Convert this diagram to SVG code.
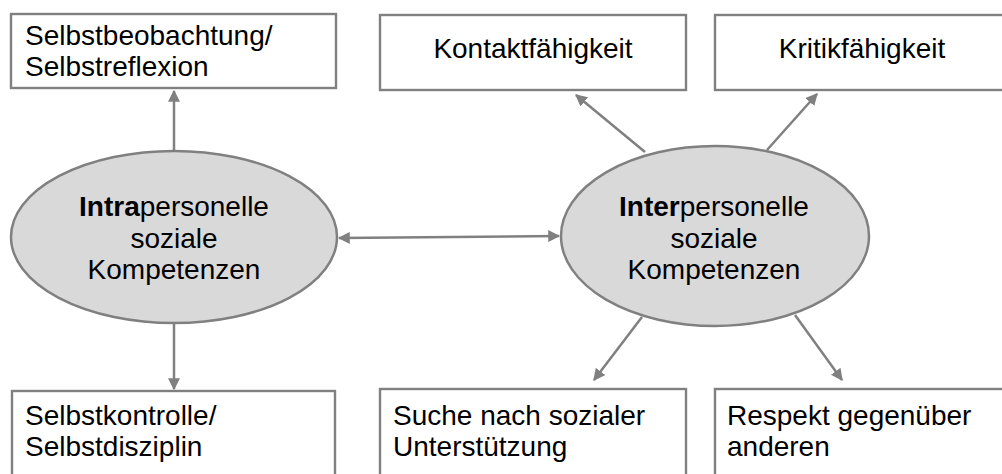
<svg xmlns="http://www.w3.org/2000/svg" width="1002" height="474" viewBox="0 0 1002 474">
  <style>
    .box { fill: #ffffff; stroke: #808080; stroke-width: 2.4; }
    .ell { fill: #d9d9d9; stroke: #808080; stroke-width: 2.5; }
    .lbl { font-family: "Liberation Sans", Arial, sans-serif; font-size: 28px; fill: #000000; }
    .mid { text-anchor: middle; }
    .b { font-weight: bold; }
    .conn { stroke: #808080; stroke-width: 2.5; fill: none; marker-end: url(#arr); }
    .both { marker-start: url(#arrs); }
  </style>
  <defs>
    <marker id="arr" viewBox="0 0 10 10" refX="9" refY="5" markerWidth="4.8" markerHeight="4.8" orient="auto" markerUnits="strokeWidth">
      <path d="M0,0 L10,5 L0,10 z" fill="#808080"/>
    </marker>
    <marker id="arrs" viewBox="0 0 10 10" refX="1" refY="5" markerWidth="4.8" markerHeight="4.8" orient="auto" markerUnits="strokeWidth">
      <path d="M10,0 L0,5 L10,10 z" fill="#808080"/>
    </marker>
  </defs>

  <!-- connectors -->
  <g id="connectors">
    <line class="conn" x1="174" y1="150" x2="174" y2="91"/>
    <line class="conn" x1="174" y1="323" x2="174" y2="389"/>
    <line class="conn both" x1="339" y1="238" x2="559" y2="236"/>
    <line class="conn" x1="645" y1="152" x2="576" y2="95"/>
    <line class="conn" x1="767" y1="150" x2="817" y2="94"/>
    <line class="conn" x1="642" y1="317" x2="594" y2="380"/>
    <line class="conn" x1="795" y1="315" x2="842" y2="380"/>
  </g>

  <!-- upper boxes -->
  <g id="selbstbeobachtung">
    <rect class="box" x="11" y="14" width="325" height="74"/>
    <text class="lbl" x="25" y="45">Selbstbeobachtung/</text>
    <text class="lbl" x="25" y="76">Selbstreflexion</text>
  </g>
  <g id="kontaktfaehigkeit">
    <rect class="box" x="380" y="15" width="306" height="75"/>
    <text class="lbl mid" x="533" y="58">Kontaktfähigkeit</text>
  </g>
  <g id="kritikfaehigkeit">
    <rect class="box" x="715" y="15" width="300" height="75"/>
    <text class="lbl mid" x="862" y="58">Kritikfähigkeit</text>
  </g>

  <!-- central ellipses -->
  <g id="intrapersonell">
    <ellipse class="ell" cx="174" cy="237" rx="163" ry="86"/>
    <text class="lbl mid" x="174" y="216"><tspan class="b">Intra</tspan>personelle</text>
    <text class="lbl mid" x="174" y="248">soziale</text>
    <text class="lbl mid" x="174" y="279">Kompetenzen</text>
  </g>
  <g id="interpersonell">
    <ellipse class="ell" cx="715" cy="236" rx="154" ry="90"/>
    <text class="lbl mid" x="714" y="216"><tspan class="b">Inter</tspan>personelle</text>
    <text class="lbl mid" x="714" y="248">soziale</text>
    <text class="lbl mid" x="714" y="279">Kompetenzen</text>
  </g>

  <!-- lower boxes -->
  <g id="selbstkontrolle">
    <rect class="box" x="12" y="391" width="323" height="95"/>
    <text class="lbl" x="25" y="425">Selbstkontrolle/</text>
    <text class="lbl" x="25" y="456">Selbstdisziplin</text>
  </g>
  <g id="unterstuetzung">
    <rect class="box" x="380" y="389" width="306" height="95"/>
    <text class="lbl" x="393" y="425">Suche nach sozialer</text>
    <text class="lbl" x="393" y="456">Unterstützung</text>
  </g>
  <g id="respekt">
    <rect class="box" x="715" y="389" width="300" height="95"/>
    <text class="lbl" x="727" y="425">Respekt gegenüber</text>
    <text class="lbl" x="727" y="456">anderen</text>
  </g>
</svg>
